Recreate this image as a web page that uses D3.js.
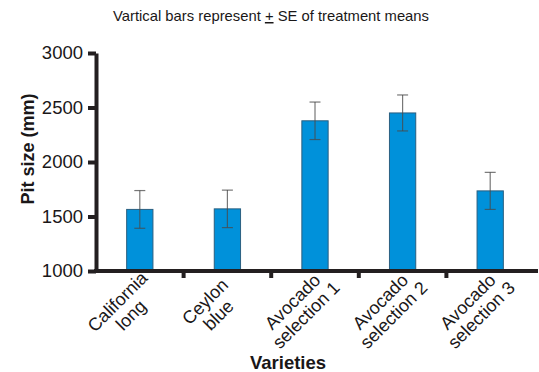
<!DOCTYPE html>
<html>
<head>
  <meta content="text/html;charset=utf-8" http-equiv="Content-Type">
  <title>Pit size by variety</title>
<script src="https://cdnjs.cloudflare.com/ajax/libs/d3/7.6.1/d3.min.js"></script>
<style>
  body { margin: 0; background: #fff; }
  text { font-family: 'Liberation Sans', Arial, sans-serif; fill: #1a1718; }
</style>
</head>
<body>
<svg width="539" height="372"></svg>
<script>

// varieties, each label split into two lines
let varieties = ['California long', 'Ceylon blue', 'Avocado selection 1', 'Avocado selection 2', 'Avocado selection 3'];
let labelLines = [ ['California', 'long'], ['Ceylon', 'blue'], ['Avocado', 'selection 1'], ['Avocado', 'selection 2'], ['Avocado', 'selection 3'] ];
let pitSize = [1565, 1570, 2378, 2450, 1735];
let pitSE   = [ 173,  172,  172,  165,  170];
let yTicks  = [1000, 1500, 2000, 2500, 3000];

let axisColor = '#231f20';
let svg = d3.select('svg');

let x = d3.scaleBand()
          .domain(varieties)
          .range([96, 534])
          .padding(0);

let y = d3.scaleLinear()
          .domain([1000, 3000])
          .range([271, 53]);

let barW = x.bandwidth() * 0.3;
let cx = d => x(d) + x.bandwidth() / 2;

//
// bars
//
svg.selectAll('rect.bar')
   .data(varieties)
   .enter()
   .append('rect')
   .attr('class' , 'bar')
   .attr('x'     , d => cx(d) - barW / 2)
   .attr('width' , barW)
   .attr('y'     , (d, i) => y(pitSize[i]))
   .attr('height', (d, i) => y(1000) - y(pitSize[i]))
   .attr('fill'  , '#0091da')
   .attr('stroke', '#2a5f80')
   .attr('stroke-width', 1);

//
// error bars (+/- SE)
//
let err = svg.selectAll('g.err')
   .data(varieties)
   .enter()
   .append('g')
   .attr('class', 'err')
   .attr('stroke', '#4a4a4a')
   .attr('stroke-opacity', 0.75)
   .attr('stroke-width', 1.2);

err.append('line')
   .attr('x1', cx).attr('x2', cx)
   .attr('y1', (d, i) => y(pitSize[i] + pitSE[i]))
   .attr('y2', (d, i) => y(pitSize[i] - pitSE[i]));

err.append('line')
   .attr('x1', d => cx(d) - 5.5).attr('x2', d => cx(d) + 5.5)
   .attr('y1', (d, i) => y(pitSize[i] + pitSE[i]))
   .attr('y2', (d, i) => y(pitSize[i] + pitSE[i]));

err.append('line')
   .attr('x1', d => cx(d) - 5.5).attr('x2', d => cx(d) + 5.5)
   .attr('y1', (d, i) => y(pitSize[i] - pitSE[i]))
   .attr('y2', (d, i) => y(pitSize[i] - pitSE[i]));

//
// y axis
//
let yAxis = svg.append('g')
   .attr('transform', 'translate(96,0)')
   .call(d3.axisLeft(y).tickValues(yTicks).tickFormat(d3.format('d'))
                       .tickSize(8).tickPadding(5).tickSizeOuter(0));

yAxis.select('.domain').attr('stroke', axisColor).attr('stroke-width', 4);
yAxis.selectAll('.tick line').attr('stroke', axisColor).attr('stroke-width', 4);
yAxis.selectAll('.tick text')
   .attr('font-family', "'Liberation Sans', Arial, sans-serif")
   .attr('font-size', 18.5)
   .attr('fill', '#1a1718');

//
// x axis: line plus ticks between the categories
//
svg.append('line')
   .attr('x1', 94).attr('x2', 538)
   .attr('y1', y(1000)).attr('y2', y(1000))
   .attr('stroke', axisColor)
   .attr('stroke-width', 4);

svg.selectAll('line.xtick')
   .data(varieties.slice(1))
   .enter()
   .append('line')
   .attr('class', 'xtick')
   .attr('x1', d => x(d)).attr('x2', d => x(d))
   .attr('y1', y(1000)).attr('y2', y(1000) + 7)
   .attr('stroke', axisColor)
   .attr('stroke-width', 4);

let labels = svg.selectAll('g.xlabel')
   .data(varieties)
   .enter()
   .append('g')
   .attr('class', 'xlabel')
   .attr('transform', d => 'translate(' + (cx(d) - 18) + ',' + (y(1000) + 35) + ') rotate(-45)');

labels.each(function (d, i) {
   let g = d3.select(this);
   labelLines[i].forEach((line, k) => {
      g.append('text')
       .attr('text-anchor', 'middle')
       .attr('y', k * 19)
       .attr('font-size', 18)
       .text(line);
   });
});

//
// titles
//
svg.append('text')
   .attr('x', 288)
   .attr('y', 369)
   .attr('text-anchor', 'middle')
   .attr('font-size', 18.5)
   .attr('font-weight', 'bold')
   .text('Varieties');

svg.append('text')
   .attr('transform', 'translate(34,149) rotate(-90)')
   .attr('text-anchor', 'middle')
   .attr('font-size', 18)
   .attr('font-weight', 'bold')
   .text('Pit size (mm)');

let title = svg.append('text')
   .attr('x', 271)
   .attr('y', 21)
   .attr('text-anchor', 'middle')
   .attr('font-size', 14.8);

title.append('tspan').text('Vartical bars represent ');
title.append('tspan').attr('text-decoration', 'underline').text('+');
title.append('tspan').text(' SE of treatment means');

</script>
</body>
</html>
